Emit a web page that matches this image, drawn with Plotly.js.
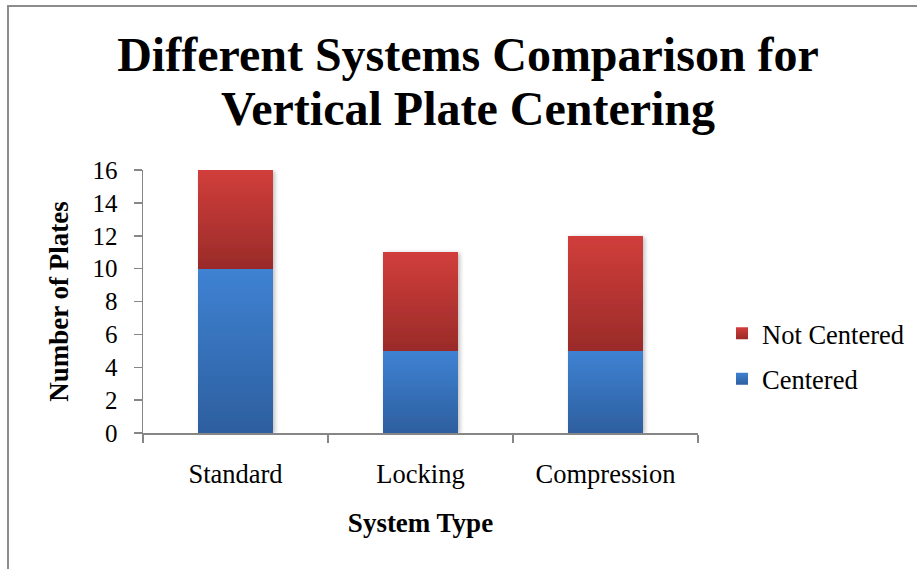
<!DOCTYPE html>
<html>
<head>
<meta charset="utf-8">
<script src="https://cdn.plot.ly/plotly-3.0.1.min.js"></script>
<style>
  html, body { margin: 0; padding: 0; background: #fff; }
  #wrap { position: relative; width: 917px; height: 569px; overflow: hidden; }
  #chart { width: 917px; height: 569px; }
  #frame { position: absolute; left: 7px; top: 5px; width: 1000px; height: 700px;
           border-left: 2px solid #8c8c8c; border-top: 2px solid #8c8c8c; pointer-events: none; }
</style>
</head>
<body>
<div id="wrap">
  <div id="chart"></div>
  <div id="frame"></div>
</div>
<script>
const categories = ["Standard", "Locking", "Compression"];
const centered = [10, 5, 5];
const notCentered = [6, 6, 7];
const seriesNames = ["Centered", "Not Centered"];
const yTicks = [0, 2, 4, 6, 8, 10, 12, 14, 16];
const titleLines = ["Different Systems Comparison for", "Vertical Plate Centering"];

const FONT = '"Liberation Serif", "Times New Roman", serif';
const BLUE = 'rgb(58, 120, 197)';
const RED = 'rgb(192, 57, 58)';

const data = [
  { type: 'bar', name: seriesNames[0], x: categories, y: centered,
    marker: { color: BLUE, line: { width: 0 } }, legendgroup: 'a', legendrank: 2, hoverinfo: 'none' },
  { type: 'bar', name: seriesNames[1], x: categories, y: notCentered,
    marker: { color: RED, line: { width: 0 } }, legendgroup: 'b', legendrank: 1, hoverinfo: 'none' }
];

const layout = {
  width: 917, height: 569,
  paper_bgcolor: '#fff', plot_bgcolor: '#fff',
  barmode: 'stack', bargap: 0.595,
  margin: { l: 143, r: 219, t: 170, b: 136, autoexpand: false },
  font: { family: FONT, color: '#000', size: 24 },
  title: { text: '<b>' + titleLines[0] + '</b>',
           font: { family: FONT, size: 48, color: '#000' },
           xref: 'container', yref: 'container',
           x: 0.5104, xanchor: 'center', y: 1 - 54 / 569, yanchor: 'middle' },
  annotations: [{
    text: '<b>' + titleLines[1] + '</b>', xref: 'paper', yref: 'paper',
    x: (468 - 143) / 555, y: (433 - 108) / 263, xanchor: 'center', yanchor: 'middle',
    showarrow: false, font: { family: FONT, size: 48, color: '#000' }
  }],
  xaxis: {
    showline: true, linecolor: '#868686', linewidth: 1.5,
    ticks: 'outside', tickson: 'boundaries', ticklen: 8, tickcolor: '#868686', tickwidth: 1.5,
    tickfont: { family: FONT, size: 26.5 }, ticklabelstandoff: 17,
    title: { text: '<b>System Type</b>', font: { family: FONT, size: 27 }, standoff: 25 },
    showgrid: false, zeroline: false, fixedrange: true
  },
  yaxis: {
    range: [0, 16], tickvals: yTicks, showline: true, linecolor: '#868686', linewidth: 1.5,
    ticks: 'outside', ticklen: 8, tickcolor: '#868686', tickwidth: 1.5,
    tickfont: { family: FONT, size: 25 }, ticklabelstandoff: 11,
    title: { text: '<b>Number of Plates</b>', font: { family: FONT, size: 27 }, standoff: 16 },
    showgrid: false, zeroline: false, fixedrange: true
  },
  legend: {
    x: (722 - 143) / 555, xanchor: 'left', y: (433 - 356) / 263, yanchor: 'middle',
    font: { family: FONT, size: 26.5 }, tracegroupgap: 8, bgcolor: 'rgba(0,0,0,0)'
  },
  showlegend: true
};

Plotly.newPlot('chart', data, layout, { staticPlot: true, displayModeBar: false }).then(gd => {
  const NS = 'http://www.w3.org/2000/svg';
  const svg = gd.querySelector('svg.main-svg');
  let defs = svg.querySelector('defs');
  if (!defs) { defs = document.createElementNS(NS, 'defs'); svg.insertBefore(defs, svg.firstChild); }
  function grad(id, c1, c2) {
    const g = document.createElementNS(NS, 'linearGradient');
    g.setAttribute('id', id);
    g.setAttribute('x1', '0'); g.setAttribute('y1', '0'); g.setAttribute('x2', '0'); g.setAttribute('y2', '1');
    [[0, c1], [1, c2]].forEach(([o, c]) => {
      const s = document.createElementNS(NS, 'stop');
      s.setAttribute('offset', o); s.setAttribute('stop-color', c);
      g.appendChild(s);
    });
    defs.appendChild(g);
  }
  grad('gRed', '#d13e3b', '#9a2b29');
  grad('gBlue', '#3f82d3', '#2d5f9f');
  const f = document.createElementNS(NS, 'filter');
  f.setAttribute('id', 'shadow'); f.setAttribute('x', '-20%'); f.setAttribute('y', '-20%');
  f.setAttribute('width', '150%'); f.setAttribute('height', '150%');
  const ds = document.createElementNS(NS, 'feDropShadow');
  ds.setAttribute('dx', '2'); ds.setAttribute('dy', '1'); ds.setAttribute('stdDeviation', '2');
  ds.setAttribute('flood-color', '#000'); ds.setAttribute('flood-opacity', '0.25');
  f.appendChild(ds); defs.appendChild(f);

  gd.querySelectorAll('path').forEach(p => {
    const fill = p.style.fill.replace(/\s/g, '');
    if (fill === RED.replace(/\s/g, '')) p.style.fill = 'url(#gRed)';
    else if (fill === BLUE.replace(/\s/g, '')) p.style.fill = 'url(#gBlue)';
  });
  const bl = gd.querySelector('.barlayer');
  if (bl) bl.setAttribute('filter', 'url(#shadow)');
});
</script>
</body>
</html>
